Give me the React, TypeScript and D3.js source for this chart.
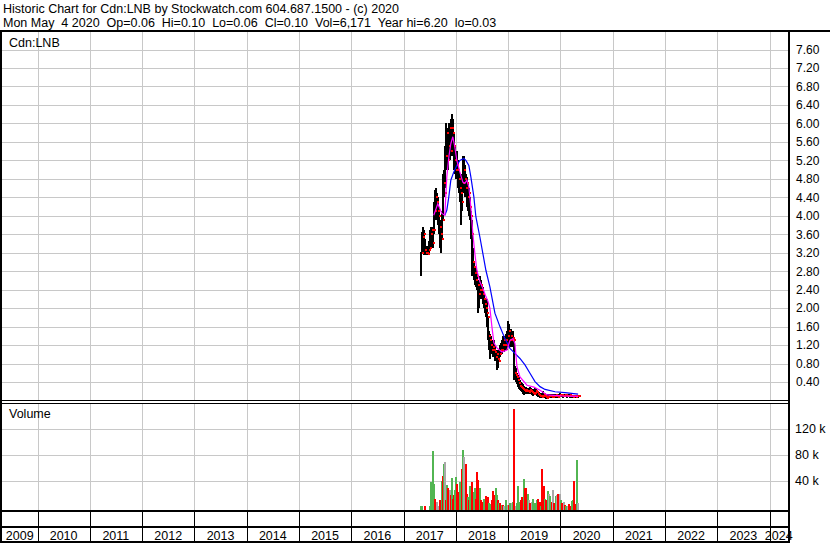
import React from 'react';
import * as d3 from 'd3';

// ---------- DATA ----------
const seriesStart = new Date(2017, 4, 1); // weekly bars from Mon May 1 2017
const highs = [
  3.21, 3.65, 3.75, 3.70, 3.50, 3.35, 3.30, 3.35, 3.45, 3.70,
  3.75, 3.72, 3.75, 4.30, 4.55, 4.60, 4.50, 4.40, 4.20, 3.90,
  3.80, 4.10, 4.90, 5.00, 5.50, 6.00, 5.90, 5.70, 6.00, 5.90,
  6.10, 6.20, 6.10, 5.80, 5.50, 5.40, 5.40, 5.20, 5.00, 4.90,
  4.80, 4.90, 5.30, 5.30, 5.10, 4.90, 4.85, 4.70, 4.60, 4.40,
  4.10, 3.90, 3.30, 3.00, 2.90, 2.90, 2.80, 2.60, 2.50, 2.70,
  2.60, 2.50, 2.45, 2.30, 2.20, 2.10, 2.20, 1.80, 1.50, 1.45,
  1.40, 1.30, 1.25, 1.30, 1.20, 1.10, 1.10, 1.05, 1.10, 1.20,
  1.25, 1.30, 1.40, 1.35, 1.40, 1.45, 1.50, 1.73, 1.65, 1.50,
  1.55, 1.45, 1.50, 1.35, 0.75, 0.70, 0.60, 0.55, 0.50, 0.45,
  0.40, 0.38, 0.35, 0.32, 0.30, 0.30, 0.28, 0.26, 0.28, 0.30,
  0.27, 0.25, 0.24, 0.24, 0.26, 0.25, 0.22, 0.20, 0.18, 0.16,
  0.15, 0.16, 0.20, 0.17, 0.14, 0.12, 0.13, 0.14, 0.15, 0.14,
  0.13, 0.12, 0.13, 0.14, 0.15, 0.14, 0.12, 0.13, 0.15, 0.16,
  0.15, 0.14, 0.13, 0.15, 0.14, 0.13, 0.12, 0.13, 0.14, 0.13,
  0.12, 0.11, 0.12, 0.12, 0.11, 0.12, 0.11, 0.10,
];
const lows = [
  2.70, 3.20, 3.30, 3.15, 3.15, 3.15, 3.15, 3.20, 3.20, 3.30,
  3.45, 3.30, 3.30, 3.60, 3.90, 4.10, 3.90, 3.80, 3.60, 3.30,
  3.20, 3.50, 3.90, 4.40, 4.60, 5.10, 5.00, 5.00, 5.30, 5.20,
  5.30, 5.60, 5.30, 5.00, 4.90, 4.80, 4.80, 4.60, 4.50, 4.30,
  3.80, 4.10, 4.50, 4.60, 4.40, 4.50, 4.20, 4.10, 4.00, 3.90,
  3.50, 2.70, 2.70, 2.60, 2.50, 2.45, 2.40, 1.90, 2.00, 2.20,
  2.20, 2.20, 2.10, 2.00, 1.90, 1.80, 1.60, 1.30, 1.10, 0.90,
  1.00, 1.00, 0.95, 1.00, 0.85, 0.85, 0.66, 0.70, 0.85, 0.95,
  1.00, 1.00, 1.10, 1.05, 1.10, 1.10, 1.10, 1.30, 1.20, 1.15,
  1.20, 1.15, 1.20, 0.45, 0.45, 0.40, 0.35, 0.30, 0.25, 0.22,
  0.20, 0.18, 0.15, 0.12, 0.14, 0.15, 0.15, 0.14, 0.15, 0.16,
  0.14, 0.12, 0.10, 0.12, 0.14, 0.12, 0.10, 0.08, 0.07, 0.06,
  0.05, 0.06, 0.08, 0.07, 0.05, 0.04, 0.05, 0.06, 0.07, 0.06,
  0.05, 0.05, 0.05, 0.06, 0.07, 0.06, 0.05, 0.05, 0.07, 0.08,
  0.08, 0.07, 0.06, 0.08, 0.08, 0.07, 0.06, 0.07, 0.07, 0.06,
  0.06, 0.05, 0.06, 0.07, 0.06, 0.06, 0.06, 0.06,
];
const closes = [
  3.20, 3.55, 3.60, 3.25, 3.20, 3.20, 3.18, 3.25, 3.30, 3.60,
  3.70, 3.40, 3.70, 4.10, 4.40, 4.30, 4.10, 4.00, 3.75, 3.60,
  3.50, 3.90, 4.70, 4.50, 5.30, 5.80, 5.20, 5.50, 5.90, 5.40,
  5.90, 5.80, 5.50, 5.20, 5.00, 5.10, 5.00, 4.80, 4.60, 4.50,
  4.30, 4.70, 5.00, 4.80, 4.60, 4.70, 4.40, 4.50, 4.20, 4.00,
  3.60, 3.00, 2.90, 2.75, 2.60, 2.70, 2.50, 2.30, 2.40, 2.50,
  2.40, 2.30, 2.20, 2.10, 2.00, 1.90, 1.80, 1.40, 1.30, 1.20,
  1.10, 1.15, 1.10, 1.05, 0.95, 1.00, 0.90, 0.85, 1.00, 1.10,
  1.10, 1.20, 1.30, 1.20, 1.30, 1.20, 1.40, 1.50, 1.30, 1.40,
  1.30, 1.35, 1.30, 0.60, 0.55, 0.50, 0.45, 0.38, 0.32, 0.30,
  0.28, 0.25, 0.22, 0.20, 0.22, 0.20, 0.20, 0.18, 0.22, 0.20,
  0.18, 0.16, 0.14, 0.16, 0.20, 0.18, 0.15, 0.12, 0.10, 0.09,
  0.08, 0.10, 0.14, 0.10, 0.08, 0.06, 0.08, 0.10, 0.10, 0.09,
  0.08, 0.07, 0.09, 0.10, 0.11, 0.09, 0.08, 0.09, 0.12, 0.12,
  0.11, 0.10, 0.10, 0.12, 0.11, 0.10, 0.09, 0.10, 0.11, 0.10,
  0.09, 0.08, 0.09, 0.10, 0.08, 0.10, 0.09, 0.10,
];

// short moving average (magenta): week index, value
const maShortWeek = [13, 17, 21, 24, 26, 28, 30, 32, 34, 36, 39, 42, 44, 46, 48, 50, 52, 54, 56, 59, 62, 65, 67, 69, 71, 73, 76, 81, 86, 89, 92, 94, 96, 99, 106, 113, 119, 126, 140, 157];
const maShortVal = [4.01, 4.26, 4.05, 4.01, 4.84, 5.27, 5.56, 5.71, 5.49, 5.20, 4.95, 4.73, 4.70, 4.77, 4.62, 4.19, 3.61, 3.18, 2.82, 2.57, 2.43, 2.25, 2.15, 2.00, 1.60, 1.25, 1.14, 1.05, 1.09, 1.30, 1.34, 1.23, 0.73, 0.51, 0.33, 0.29, 0.22, 0.12, 0.10, 0.09];

// long moving average (blue): week index, value
const maLongWeek = [24, 26, 28, 30, 33, 36, 39, 43, 45, 48, 50, 53, 55, 59, 62, 65, 69, 74, 79, 84, 89, 94, 99, 104, 109, 114, 119, 124, 134, 144, 157];
const maLongVal = [4.01, 4.12, 4.41, 4.77, 4.95, 5.09, 5.20, 5.24, 5.20, 5.09, 4.84, 4.41, 3.98, 3.54, 3.18, 2.82, 2.46, 1.89, 1.60, 1.34, 1.13, 1.02, 0.91, 0.77, 0.59, 0.41, 0.30, 0.24, 0.19, 0.17, 0.14];

// volume (thousands): week index, volume, direction (u = up, d = down, n = unchanged)
const volWeek = [0, 1, 4, 9, 10, 12, 13, 14, 16, 18, 19, 21, 22, 23, 24, 25, 26, 27, 29, 30, 31, 32, 33, 34, 35, 36, 37, 38, 39, 41, 42, 43, 45, 46, 47, 48, 49, 50, 51, 53, 54, 55, 56, 57, 59, 60, 61, 63, 64, 65, 67, 68, 69, 71, 72, 73, 75, 76, 77, 78, 79, 81, 82, 83, 85, 87, 88, 89, 91, 92, 93, 95, 96, 97, 99, 100, 101, 103, 104, 105, 107, 108, 109, 111, 112, 113, 115, 116, 117, 119, 120, 121, 123, 124, 125, 127, 128, 129, 131, 132, 133, 135, 136, 137, 139, 140, 141, 143, 144, 145, 147, 148, 149, 151, 152, 153, 155, 156, 157];
const volK = [1, 1, 1, 0.5, 38, 86, 34, 12, 7, 0.5, 10, 39, 47, 65, 68, 10, 33, 28, 25, 17, 44, 12, 17, 25, 45, 35, 22, 20, 38, 57, 87, 76, 66, 20, 15, 10, 31, 28, 38, 23, 28, 11, 53, 41, 28, 10, 7, 11, 5, 16, 15, 5, 4, 10, 24, 17, 29, 17, 10, 5, 5, 2, 2, 0.5, 10, 3, 2, 5, 5, 7, 150, 0.5, 5, 31, 7, 10, 15, 42, 28, 28, 20, 10, 5, 7, 12, 5, 5, 10, 11, 7, 0.5, 57, 31, 11, 10, 24, 19, 16, 7, 25, 5, 16, 17, 20, 19, 10, 5, 7, 2, 0.5, 0.5, 4, 0.3, 8, 10, 39, 4, 71, 6];
const volDir = 'uuduuuudnndudundudndudduudddudundduduuduuddduddu' +
  'udduuddduudududnundunudnuuudduddundnuuuudduddudunudndundnud' +
  'ndundduuddunddnudnuuuudu';

const priceTicks = [0.4, 0.8, 1.2, 1.6, 2.0, 2.4, 2.8, 3.2, 3.6, 4.0, 4.4, 4.8, 5.2, 5.6, 6.0, 6.4, 6.8, 7.2, 7.6];
const volTicks = [40, 80, 120];
const yearLabels = [2009, 2010, 2011, 2012, 2013, 2014, 2015, 2016, 2017, 2018, 2019, 2020, 2021, 2022, 2023, 2024];

const headerLine1 = 'Historic Chart for Cdn:LNB by Stockwatch.com 604.687.1500 - (c) 2020';
const headerLine2 = 'Mon May  4 2020  Op=0.06  Hi=0.10  Lo=0.06  Cl=0.10  Vol=6,171  Year hi=6.20  lo=0.03';
const symbolLabel = 'Cdn:LNB';
const volumeLabel = 'Volume';

// ---------- LAYOUT ----------
const W = 830;
const H = 543;
const L = 2;
const R = 788;
const FONT = '"Liberation Sans", Arial, sans-serif';
const GRID = '#c8c8c8';

export default function App() {
  const x = d3.scaleTime()
    .domain([new Date(2010, 0, 1), new Date(2024, 0, 1)])
    .range([37.5, 769.5]);
  const py = d3.scaleLinear().domain([0, 7.6]).range([400.5, 49.5]);
  const vy = d3.scaleLinear().domain([0, 120]).range([506.5, 428.5]);

  const weekDate = (i: number) => d3.timeWeek.offset(seriesStart, i);
  const wx = (i: number) => x(weekDate(i));

  const yearX = yearLabels.map((y) => x(new Date(y, 0, 1)));
  const gridYears = yearLabels.slice(1).map((y) => Math.round(x(new Date(y, 0, 1))));

  const lineShort = d3.line<number>()
    .x((_, k) => wx(maShortWeek[k]))
    .y((v) => py(v));
  const lineLong = d3.line<number>()
    .x((_, k) => wx(maLongWeek[k]))
    .y((v) => py(v));

  const volColor = (c: string) => (c === 'u' ? '#52b552' : c === 'd' ? '#ff0000' : '#a8a8a8');

  const textStyle: React.CSSProperties = { fontFamily: FONT, fontSize: 12.5, whiteSpace: 'pre' };

  return (
    <svg width={W} height={H} style={{ position: 'absolute', left: 0, top: 0, display: 'block' }}
      xmlns="http://www.w3.org/2000/svg" shapeRendering="crispEdges">
      <rect x={0} y={0} width={W} height={H} fill="#fff" />

      {/* header */}
      <text x={3} y={12.5} style={textStyle} fill="#000">{headerLine1}</text>
      <text x={3} y={27} style={textStyle} fill="#000">{headerLine2}</text>

      {/* price panel grid */}
      {priceTicks.map((t) => (
        <rect key={'pg' + t} x={L} y={Math.round(py(t)) - 0.5} width={R - L} height={1} fill={GRID} />
      ))}
      {gridYears.map((gx) => (
        <rect key={'pv' + gx} x={gx} y={32} width={1} height={368} fill={GRID} />
      ))}

      {/* volume panel grid */}
      {volTicks.map((t) => (
        <rect key={'vg' + t} x={L} y={Math.round(vy(t)) - 0.5} width={R - L} height={1} fill={GRID} />
      ))}
      {gridYears.map((gx) => (
        <rect key={'vv' + gx} x={gx} y={404} width={1} height={106} fill={GRID} />
      ))}

      {/* high-low bars (black) */}
      <g>
        {highs.map((h, i) => {
          const bx = Math.round(wx(i));
          const top = Math.round(py(h));
          const bot = Math.round(py(lows[i]));
          return <rect key={'b' + i} x={bx - 1} y={top} width={2} height={Math.max(1, bot - top)} fill="#000" />;
        })}
      </g>
      {/* close ticks (red) */}
      <g>
        {closes.map((c, i) => (
          <rect key={'c' + i} x={Math.round(wx(i)) + 1} y={Math.round(py(c)) - 1} width={2} height={2} fill="#ff0000" />
        ))}
      </g>

      {/* moving averages */}
      <path d={lineLong(maLongVal) || ''} fill="none" stroke="#0000ff" strokeWidth={1.2} shapeRendering="auto" />
      <path d={lineShort(maShortVal) || ''} fill="none" stroke="#ff00ff" strokeWidth={1.2} shapeRendering="auto" />

      {/* volume bars */}
      {volK.map((v, k) => {
        const bx = Math.round(wx(volWeek[k]));
        const top = Math.min(Math.round(vy(v)), 508);
        return <rect key={'v' + k} x={bx - 1} y={top} width={2} height={510 - top} fill={volColor(volDir[k])} />;
      })}

      {/* frame lines */}
      <rect x={0} y={30} width={W} height={2} fill="#000" />
      <rect x={0} y={30} width={2} height={513} fill="#000" />
      <rect x={R} y={30} width={2} height={513} fill="#000" />
      <rect x={0} y={400} width={R + 2} height={1} fill="#000" />
      <rect x={0} y={403} width={R + 2} height={1} fill="#000" />
      <rect x={0} y={510} width={R + 2} height={2} fill="#000" />
      <rect x={0} y={526} width={R + 2} height={2} fill="#000" />
      <rect x={0} y={541} width={R + 2} height={2} fill="#000" />
      {gridYears.map((gx) => (
        <rect key={'sv' + gx} x={gx} y={512} width={1} height={29} fill="#000" />
      ))}

      {/* labels */}
      <text x={9} y={46.5} style={textStyle} fill="#000">{symbolLabel}</text>
      <text x={9} y={418} style={textStyle} fill="#000">{volumeLabel}</text>

      {priceTicks.map((t) => (
        <text key={'pl' + t} x={796} y={py(t)} dy="0.36em" style={{ ...textStyle, fontSize: 12 }} fill="#000">
          {t.toFixed(2)}
        </text>
      ))}
      {volTicks.map((t) => (
        <text key={'vl' + t} x={795} y={vy(t)} dy="0.36em" style={textStyle} fill="#000">
          {t + ' k'}
        </text>
      ))}

      {yearLabels.map((yr, k) => {
        const left = Math.max(yearX[k], L);
        const right = k + 1 < yearX.length ? Math.min(yearX[k + 1], R) : R;
        return (
          <text key={'yl' + yr} x={(left + right) / 2} y={539.5} textAnchor="middle" style={textStyle} fill="#000">
            {String(yr)}
          </text>
        );
      })}
    </svg>
  );
}
